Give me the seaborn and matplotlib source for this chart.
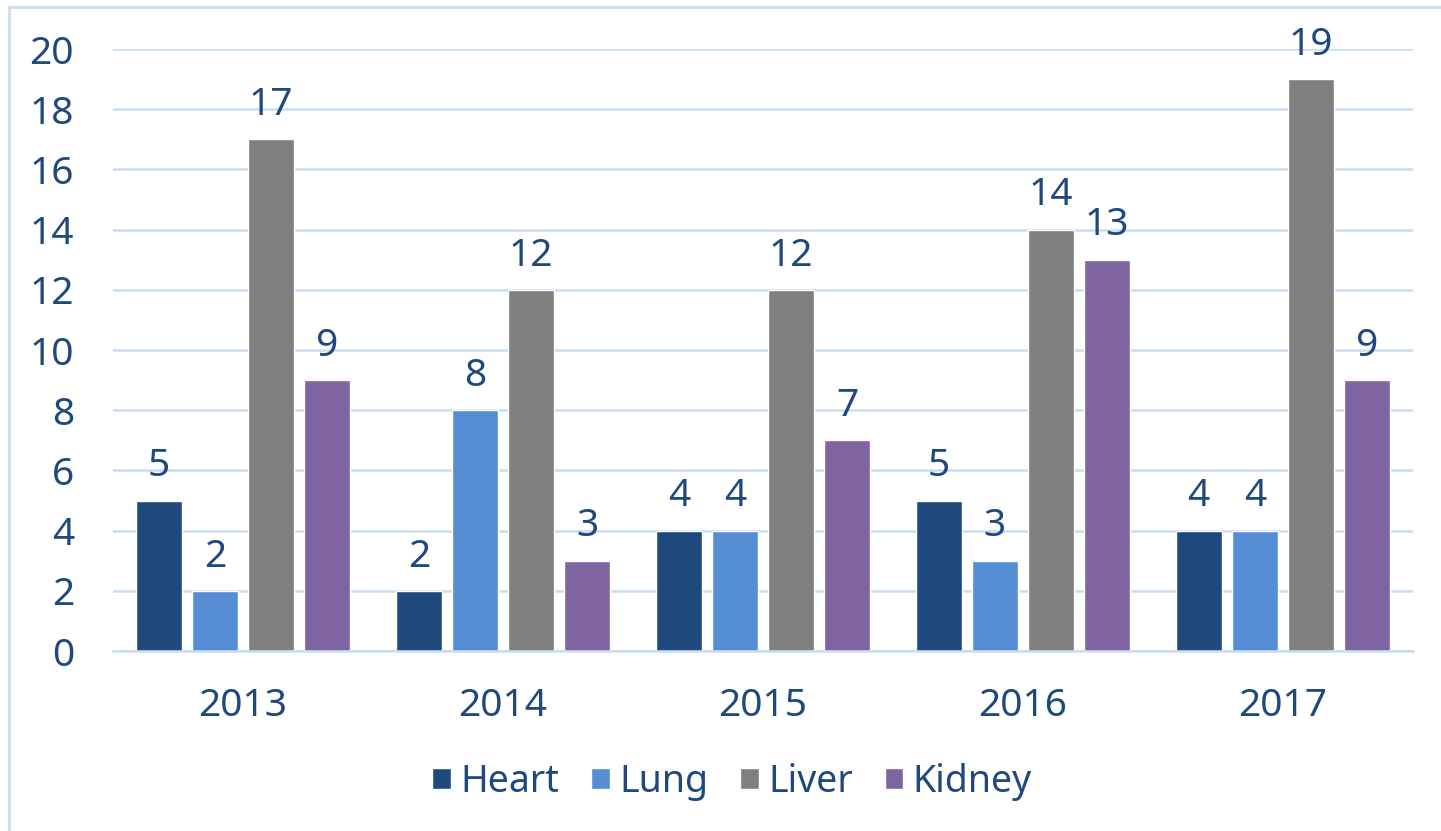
import pandas as pd
import matplotlib.pyplot as plt
import seaborn as sns
from matplotlib.lines import Line2D

years = ['2013', '2014', '2015', '2016', '2017']
heart = [5, 2, 4, 5, 4]
lung = [2, 8, 4, 3, 4]
liver = [17, 12, 12, 14, 19]
kidney = [9, 3, 7, 13, 9]
organs = ['Heart', 'Lung', 'Liver', 'Kidney']
colors = ['#1F497D', '#558ED5', '#7F7F7F', '#8064A2']

rows = []
for organ, vals in zip(organs, [heart, lung, liver, kidney]):
    for yr, v in zip(years, vals):
        rows.append([yr, organ, v])
df = pd.DataFrame(rows, columns=['Year', 'Organ', 'Count'])

text_col = '#1F497D'
grid_col = '#C9DCF2'

sns.set_style('white')
plt.rcParams['font.family'] = ['Noto Sans', 'DejaVu Sans']

fig = plt.figure(figsize=(14.41, 8.31), dpi=100)
ax = fig.add_axes([0.0784, 0.2166, 0.902, 0.7244])

sns.barplot(data=df, x='Year', y='Count', hue='Organ', hue_order=organs,
            palette=colors, width=0.862, gap=0.18, saturation=1, ax=ax)

for cont in ax.containers:
    ax.bar_label(cont, padding=11, fontsize=28, color=text_col, clip_on=False)

ax.set_ylim(0, 20)
ax.set_yticks(range(0, 21, 2))
ax.set_xlim(-0.5, 4.5)
ax.yaxis.grid(True, color=grid_col, linewidth=1.8)
ax.set_axisbelow(True)
for s in ['top', 'right', 'left']:
    ax.spines[s].set_visible(False)
ax.spines['bottom'].set_color(grid_col)
ax.spines['bottom'].set_linewidth(1.8)
ax.tick_params(axis='both', length=0, labelsize=28, labelcolor=text_col)
ax.tick_params(axis='y', pad=28)
ax.tick_params(axis='x', pad=26)
ax.set_xlabel('')
ax.set_ylabel('')

ax.legend(loc='center', bbox_to_anchor=(0.508, 0.059), bbox_transform=fig.transFigure,
          ncol=4, frameon=False, fontsize=27, labelcolor=text_col,
          handlelength=0.5, handleheight=0.5, handletextpad=0.25, columnspacing=0.85)

# light border on the figure
fig.add_artist(Line2D([0.0063, 0.0063], [0, 0.9916], transform=fig.transFigure, color=grid_col, linewidth=2))
fig.add_artist(Line2D([0.0063, 1], [0.9916, 0.9916], transform=fig.transFigure, color=grid_col, linewidth=2))

plt.savefig('out.png', dpi=100)
